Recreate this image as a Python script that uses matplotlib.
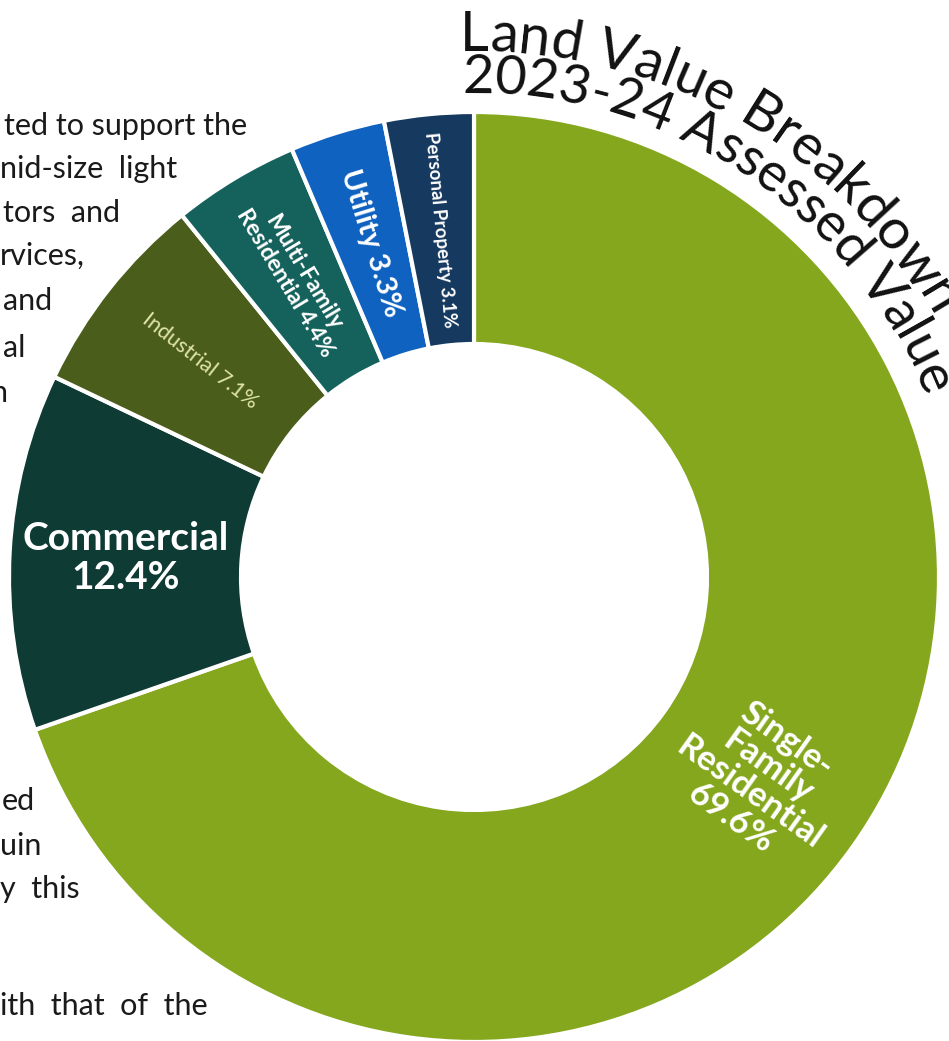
import math

import matplotlib
matplotlib.use("Agg")
import matplotlib.pyplot as plt
from matplotlib.font_manager import FontProperties
from matplotlib.textpath import TextToPath

W, H = 949, 1041
DPI = 100

categories = ["Single-Family Residential", "Commercial", "Industrial",
              "Multi-Family Residential", "Utility", "Personal Property"]
shares = [69.6, 12.4, 7.1, 4.4, 3.3, 3.1]
labels = ["Single-\nFamily\nResidential\n69.6%", "Commercial\n12.4%",
          "Industrial 7.1%", "Multi-Family\nResidential 4.4%",
          "Utility 3.3%", "Personal Property 3.1%"]
colors = ["#85a71e", "#0f3b35", "#4b5d1b", "#15625d", "#1062c0", "#16395f"]

title_lines = ["Land Value Breakdown", "2023-24 Assessed Value"]

# wrapped body text of the page around the chart (left edge is cut off)
body_lines = [
    ("ted to support the", 4, 135),
    ("nid-size  light", 0, 178),
    ("tors  and", 3, 222),
    ("rvices,", 0, 265),
    ("and", 3, 310),
    ("al", 3, 357),
    ("n", -9, 402),
    ("ed", 2, 810),
    ("uin", 0, 855),
    ("y  this", 0, 898),
    ("ith  that  of  the", 0, 1015),
]

FONT = "Lato"
CX, CY = 474, H - 577
R_OUT, R_IN = 465, 233

fig = plt.figure(figsize=(W / DPI, H / DPI), dpi=DPI)
ax = fig.add_axes([0, 0, 1, 1])

wedges, _ = ax.pie(shares, colors=colors, startangle=90, counterclock=False,
                   center=(CX, CY), radius=R_OUT,
                   wedgeprops=dict(width=R_OUT - R_IN, edgecolor="white",
                                   linewidth=3))
ax.set_xlim(0, W)
ax.set_ylim(0, H)
ax.set_aspect("equal")
ax.axis("off")

# labels sit at mid-ring on each wedge's bisector
label_style = {
    0: dict(size=25, weight="bold", color="white", radial="out", ls=1.0),
    1: dict(size=28, weight="bold", color="white", radial=None, ls=1.15),
    2: dict(size=15.5, weight="normal", color="#e1e5aa", radial="in", ls=1.0),
    3: dict(size=16.5, weight="bold", color="white", radial="in", ls=1.0),
    4: dict(size=21, weight="bold", color="white", radial="in", ls=1.0),
    5: dict(size=13.5, weight="bold", color="white", radial="in", ls=1.0),
}
r_mid = (R_OUT + R_IN) / 2
for i, w in enumerate(wedges):
    mid = (w.theta1 + w.theta2) / 2
    x = CX + r_mid * math.cos(math.radians(mid))
    y = CY + r_mid * math.sin(math.radians(mid))
    st = label_style[i]
    if st["radial"] == "out":
        rot = mid
    elif st["radial"] == "in":
        rot = mid - 180
    else:
        rot = 0
    ax.text(x, y, labels[i], ha="center", va="center", rotation=rot,
            rotation_mode="anchor", fontsize=st["size"], fontweight=st["weight"],
            color=st["color"], family=FONT, linespacing=st["ls"],
            multialignment="center")

# title set along arcs concentric with the ring
t2p = TextToPath()


def char_advance(c, prop):
    wide, *_ = t2p.get_text_width_height_descent("X" + c + "X", prop, ismath=False)
    base, *_ = t2p.get_text_width_height_descent("XX", prop, ismath=False)
    return (wide - base) * DPI / 72


def arc_text(text, radius, start_deg, size):
    prop = FontProperties(family=FONT, size=size)
    pos = 0.0
    for c in text:
        adv = char_advance(c, prop)
        theta = start_deg - math.degrees((pos + adv / 2) / radius)
        pos += adv
        if c == " ":
            continue
        x = CX + radius * math.cos(math.radians(theta))
        y = CY + radius * math.sin(math.radians(theta))
        ax.text(x, y, c, ha="center", va="baseline", rotation=theta - 90,
                rotation_mode="anchor", fontproperties=prop, color="#111111")


arc_text(title_lines[0], 526, 91.5, 40.5)
arc_text(title_lines[1], 484, 91.4, 39)

for txt, x, y in body_lines:
    ax.text(x, H - y, txt, ha="left", va="baseline", fontsize=22,
            family=FONT, color="#1a1a1a")

fig.savefig("out.png", dpi=DPI)
